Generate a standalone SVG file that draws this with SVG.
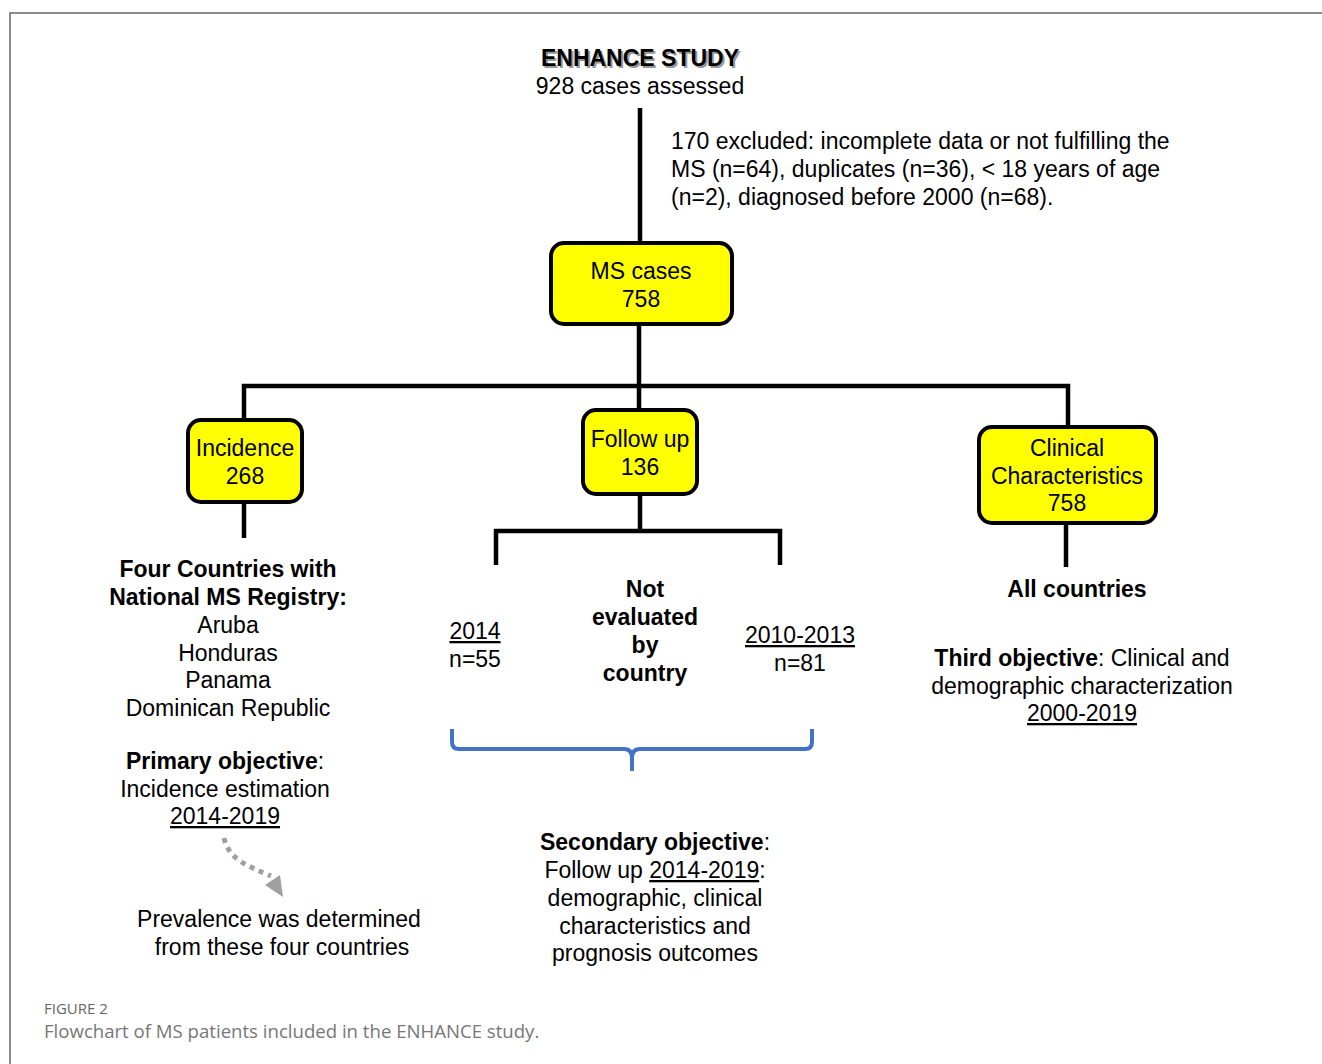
<svg xmlns="http://www.w3.org/2000/svg" width="1322" height="1064" viewBox="0 0 1322 1064">
<style>
text{font-family:"Liberation Sans",Arial,sans-serif;font-size:23px;fill:#000}
.b{font-weight:bold}
.c{text-anchor:middle}
.u{text-decoration:underline}
.box{fill:#ffff00;stroke:#000;stroke-width:4}
.ln{stroke:#000;stroke-width:4.5;fill:none}
.cap{font-family:"Open Sans","Liberation Sans",sans-serif;fill:#777}
</style>
<rect width="1322" height="1064" fill="#fff"/>
<path d="M10,1064 V13 H1322" fill="none" stroke="#666" stroke-width="1.5"/>

<g id="connectors">
<path class="ln" d="M640,108 V243"/>
<path class="ln" d="M639,324 V410"/>
<path class="ln" d="M244,420 V386 H1068 V427"/>
<path class="ln" d="M244,502 V538"/>
<path class="ln" d="M640,494 V531"/>
<path class="ln" d="M496,565 V531 H780 V565"/>
<path class="ln" d="M1066,523 V567"/>
<path d="M224,838 C229,860 248,866 271,876" fill="none" stroke="#a0a0a0" stroke-width="5" stroke-dasharray="5 5"/>
<polygon points="265,885 280,875 283,897" fill="#a0a0a0"/>
<path d="M452,729 V742 Q452,749 459,749 H624 Q632,749 632,758 V771 M632,771 V758 Q632,749 640,749 H805 Q812,749 812,742 V729" fill="none" stroke="#4472c4" stroke-width="4"/>
</g>

<g id="title">
<text class="b c" x="642" y="68" style="fill:#999">ENHANCE STUDY</text>
<text class="b c" x="640" y="66">ENHANCE STUDY</text>
<text class="c" x="640" y="94">928 cases assessed</text>
</g>

<g id="excluded">
<text x="671" y="149">170 excluded: incomplete data or not fulfilling the</text>
<text x="671" y="177">MS (n=64), duplicates (n=36), &lt; 18 years of age</text>
<text x="671" y="205">(n=2), diagnosed before 2000 (n=68).</text>
</g>

<g id="ms-cases">
<rect class="box" x="551" y="243" width="181" height="81" rx="13"/>
<text class="c" x="641" y="279">MS cases</text>
<text class="c" x="641" y="307">758</text>
</g>

<g id="incidence">
<rect class="box" x="188" y="420" width="114" height="82" rx="13"/>
<text class="c" x="245" y="456">Incidence</text>
<text class="c" x="245" y="484">268</text>
</g>

<g id="follow-up">
<rect class="box" x="583" y="410" width="114" height="84" rx="13"/>
<text class="c" x="640" y="447">Follow up</text>
<text class="c" x="640" y="475">136</text>
</g>

<g id="clinical">
<rect class="box" x="979" y="427" width="177" height="96" rx="13"/>
<text class="c" x="1067" y="456">Clinical</text>
<text class="c" x="1067" y="484">Characteristics</text>
<text class="c" x="1067" y="511">758</text>
</g>

<g id="incidence-details">
<text class="b c" x="228" y="577">Four Countries with</text>
<text class="b c" x="228" y="605">National MS Registry:</text>
<text class="c" x="228" y="633">Aruba</text>
<text class="c" x="228" y="661">Honduras</text>
<text class="c" x="228" y="688">Panama</text>
<text class="c" x="228" y="716">Dominican Republic</text>
<text class="c" x="225" y="769"><tspan class="b">Primary objective</tspan>:</text>
<text class="c" x="225" y="797">Incidence estimation</text>
<text class="c u" x="225" y="824">2014-2019</text>
<text class="c" x="279" y="927">Prevalence was determined</text>
<text class="c" x="282" y="955">from these four countries</text>
</g>

<g id="followup-details">
<text class="c u" x="475" y="639">2014</text>
<text class="c" x="475" y="667">n=55</text>
<text class="b c" x="645" y="597">Not</text>
<text class="b c" x="645" y="625">evaluated</text>
<text class="b c" x="645" y="653">by</text>
<text class="b c" x="645" y="681">country</text>
<text class="c u" x="800" y="643">2010-2013</text>
<text class="c" x="800" y="671">n=81</text>
<text class="c" x="655" y="850"><tspan class="b">Secondary objective</tspan>:</text>
<text class="c" x="655" y="878">Follow up <tspan class="u">2014-2019</tspan>:</text>
<text class="c" x="655" y="906">demographic, clinical</text>
<text class="c" x="655" y="934">characteristics and</text>
<text class="c" x="655" y="961">prognosis outcomes</text>
</g>

<g id="clinical-details">
<text class="b c" x="1077" y="597">All countries</text>
<text class="c" x="1082" y="666"><tspan class="b">Third objective</tspan>: Clinical and</text>
<text class="c" x="1082" y="694">demographic characterization</text>
<text class="c u" x="1082" y="721">2000-2019</text>
</g>

<g id="caption">
<text class="cap" x="44" y="1014" style="font-size:15px;fill:#666">FIGURE 2</text>
<text class="cap" x="44" y="1038" style="font-size:18.6px">Flowchart of MS patients included in the ENHANCE study.</text>
</g>
</svg>
